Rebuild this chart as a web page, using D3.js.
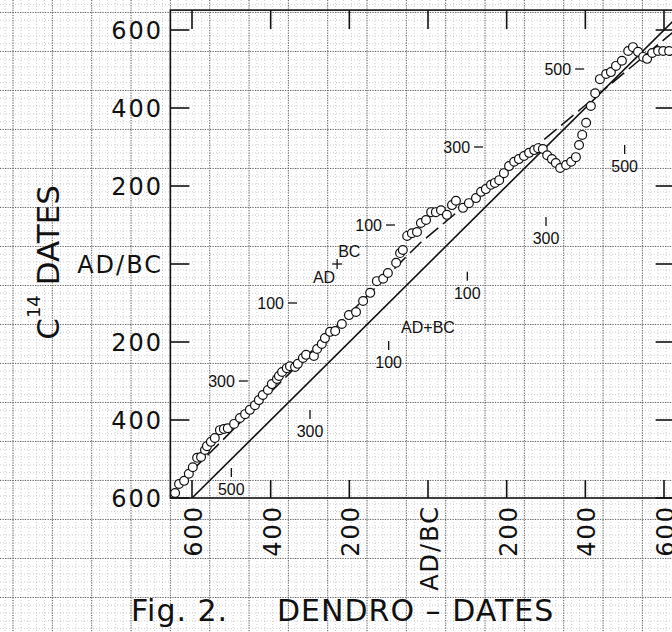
<!DOCTYPE html>
<html>
<head>
<meta charset="utf-8">
<script src="https://cdn.jsdelivr.net/npm/d3@7"></script>
<style>
body { margin: 0; background: #fff; }
svg { display: block; }
.big { font-family: "DejaVu Sans", sans-serif; font-size: 24px; letter-spacing: 2px; fill: #111; }
.small { font-family: "Liberation Sans", Arial, sans-serif; font-size: 16px; fill: #111; }
.title { font-family: "DejaVu Sans", sans-serif; font-size: 30px; fill: #111; }
</style>
</head>
<body>
<div id="chart"></div>
<script>
var width = 672, height = 632;

// tree-ring (dendro) date vs radiocarbon date, in years, BC negative
var dendro = [-643,-633,-620,-608,-598,-587,-577,-567,-562,-552,-542,-529,-519,-509,-493,-478,-465,-453,-440,-430,
  -420,-407,-397,-384,-379,-371,-359,-351,-338,-331,-318,-310,-290,-282,-270,-262,-249,-236,-219,-201,
  -183,-165,-147,-130,-114,-102,-81,-71,-64,-53,-41,-28,-18,-5,8,20,33,48,61,71,
  89,104,122,135,147,160,170,181,193,206,219,231,244,257,270,280,292,303,315,325,
  336,351,364,376,384,392,402,414,425,437,453,465,478,493,509,521,534,547,557,570,
  585,598,613];
var c14 = [-587,-564,-556,-538,-521,-497,-495,-477,-467,-456,-446,-426,-423,-421,-410,-395,-385,-374,-362,-349,
  -336,-323,-308,-295,-287,-277,-267,-262,-264,-256,-241,-233,-236,-218,-205,-190,-174,-172,-154,-131,
  -123,-95,-74,-44,-38,-23,3,28,36,72,79,82,105,113,133,133,138,126,151,162,
  144,156,169,185,192,203,208,215,233,251,262,269,277,285,292,297,295,279,269,259,
  246,254,262,274,305,331,362,405,438,474,487,492,508,521,546,556,544,531,526,541,
  546,546,546];

var axisTicks = [-600, -400, -200, 0, 200, 400, 600];

// dashed reference line
var dashedDendro = [-600, -20, 627];
var dashedC14 = [-530, 54, 598];

// small scale marks drawn along the lines
var dendroMarks = [-500, -300, -100, 100, 300, 500];
var dendroMarkC14 = [-536, -387, -210, -33, 108, 292];
var dendroZeroC14 = -121;
var c14Marks = [-300, -100, 100, 300, 500];
var c14MarkDendro = [-458, -333, -84, 140, 397];
var c14ZeroDendro = -231;

var frame = { left: -655, right: 627, bottom: -600, top: 651 };

var x = d3.scaleLinear().domain([-600, 600]).range([192, 664]);
var y = d3.scaleLinear().domain([-600, 600]).range([498, 30]);

var svg = d3.select('#chart').append('svg')
    .attr('width', width)
    .attr('height', height);

svg.append('rect').attr('width', width).attr('height', height).attr('fill', '#fff');

// graph paper
var gx0 = x.invert(0), gx1 = x.invert(width), gy0 = y.invert(height), gy1 = y.invert(0);
var grid = svg.append('g');
function paperLines(step, offset, stroke, dash, sw) {
    var xs = d3.range(Math.ceil((gx0 - offset) / step) * step + offset, gx1, step);
    var ys = d3.range(Math.ceil((gy0 - offset) / step) * step + offset, gy1, step);
    grid.selectAll(null).data(xs).enter().append('line')
        .attr('x1', d => x(d)).attr('x2', d => x(d))
        .attr('y1', 0).attr('y2', height)
        .attr('stroke', stroke).attr('stroke-width', sw).attr('stroke-dasharray', dash);
    grid.selectAll(null).data(ys).enter().append('line')
        .attr('y1', d => y(d)).attr('y2', d => y(d))
        .attr('x1', 0).attr('x2', width)
        .attr('stroke', stroke).attr('stroke-width', sw).attr('stroke-dasharray', dash);
}
paperLines(20, 5, '#b8b8b8', '1,2', 0.7);
paperLines(100, 45, '#555', '1.2,1.3', 0.9);

// frame
var fl = x(frame.left), fr = x(frame.right), fb = y(frame.bottom), ft = y(frame.top);
svg.append('rect')
    .attr('x', fl).attr('y', ft)
    .attr('width', fr - fl).attr('height', fb - ft)
    .attr('fill', 'none').attr('stroke', '#111').attr('stroke-width', 1.6);

var ticks = svg.append('g').attr('stroke', '#111').attr('stroke-width', 1.6);
axisTicks.forEach(function (t) {
    ticks.append('line').attr('x1', x(t)).attr('x2', x(t)).attr('y1', fb).attr('y2', fb - 18);
    ticks.append('line').attr('x1', x(t)).attr('x2', x(t)).attr('y1', ft).attr('y2', ft + 19);
    ticks.append('line').attr('y1', y(t)).attr('y2', y(t)).attr('x1', fl).attr('x2', fl + 19);
    ticks.append('line').attr('y1', y(t)).attr('y2', y(t)).attr('x1', fr).attr('x2', fr - 19);
});

var fmt = d => d === 0 ? 'AD/BC' : String(Math.abs(d));

svg.selectAll('.ylab').data(axisTicks).enter().append('text')
    .attr('class', 'big ylab')
    .attr('x', 163)
    .attr('y', d => y(d))
    .attr('dy', '0.36em')
    .attr('text-anchor', 'end')
    .text(fmt);

svg.selectAll('.xlab').data(axisTicks).enter().append('text')
    .attr('class', 'big xlab')
    .attr('transform', d => 'translate(' + (x(d) + 10) + ',505) rotate(-90)')
    .attr('text-anchor', 'end')
    .text(fmt);

// axis titles
var yt = svg.append('text')
    .attr('class', 'title')
    .attr('transform', 'translate(59,185) rotate(-90)')
    .attr('text-anchor', 'end')
    .style('font-size', '31px');
yt.append('tspan').text('C');
yt.append('tspan').attr('dy', -19).style('font-size', '18px').text('14');
yt.append('tspan').attr('dy', 19).text(' DATES');

svg.append('text').attr('class', 'title').attr('x', 131).attr('y', 621)
    .style('letter-spacing', '1px').text('Fig. 2.');
svg.append('text').attr('class', 'title').attr('x', 277).attr('y', 621)
    .style('letter-spacing', '1px').text('DENDRO – DATES');

// lines, clipped to the frame
svg.append('clipPath').attr('id', 'plot')
    .append('rect').attr('x', fl).attr('y', ft).attr('width', fr - fl).attr('height', fb - ft);
var plot = svg.append('g').attr('clip-path', 'url(#plot)');

plot.append('line')
    .attr('x1', x(-600)).attr('y1', y(-600))
    .attr('x2', x(frame.right)).attr('y2', y(frame.right))
    .attr('stroke', '#111').attr('stroke-width', 1.6);

var dashed = d3.line().x(d => x(d[0])).y(d => y(d[1]));
plot.append('path')
    .attr('d', dashed(d3.zip(dashedDendro, dashedC14)))
    .attr('fill', 'none').attr('stroke', '#111').attr('stroke-width', 1.5)
    .attr('stroke-dasharray', '16,6');

// dendro scale marks
var marks = svg.append('g');
dendroMarks.forEach(function (m, i) {
    var cx = x(m), cy = y(dendroMarkC14[i]);
    marks.append('line').attr('x1', cx).attr('x2', cx).attr('y1', cy - 5).attr('y2', cy + 4)
        .attr('stroke', '#111').attr('stroke-width', 1.3);
    marks.append('text').attr('class', 'small').attr('x', cx).attr('y', cy + 16).attr('dy', '0.36em')
        .attr('text-anchor', 'middle').text(Math.abs(m));
});
marks.append('text').attr('class', 'small').attr('x', x(0)).attr('y', y(dendroZeroC14) + 16).attr('dy', '0.36em')
    .attr('text-anchor', 'middle').text('AD+BC');

// C14 scale marks
c14Marks.forEach(function (m, i) {
    var ex = x(c14MarkDendro[i]), cy = y(m);
    marks.append('line').attr('x1', ex - 9).attr('x2', ex).attr('y1', cy).attr('y2', cy)
        .attr('stroke', '#111').attr('stroke-width', 1.3);
    marks.append('text').attr('class', 'small').attr('x', ex - 13).attr('y', cy).attr('dy', '0.36em')
        .attr('text-anchor', 'end').text(Math.abs(m));
});
var px = x(c14ZeroDendro), py = y(0);
marks.append('line').attr('x1', px - 5).attr('x2', px + 5).attr('y1', py).attr('y2', py)
    .attr('stroke', '#111').attr('stroke-width', 1.3);
marks.append('line').attr('x1', px).attr('x2', px).attr('y1', py - 5).attr('y2', py + 5)
    .attr('stroke', '#111').attr('stroke-width', 1.3);
marks.append('text').attr('class', 'small').attr('x', px - 2).attr('y', py + 19)
    .attr('text-anchor', 'end').text('AD');
marks.append('text').attr('class', 'small').attr('x', px + 1).attr('y', py - 7)
    .attr('text-anchor', 'start').text('BC');

// data points
plot.selectAll('circle')
    .data(d3.zip(dendro, c14))
    .enter().append('circle')
    .attr('cx', d => x(d[0]))
    .attr('cy', d => y(d[1]))
    .attr('r', 4.4)
    .attr('fill', '#fff')
    .attr('stroke', '#111')
    .attr('stroke-width', 1.2);
</script>
</body>
</html>
